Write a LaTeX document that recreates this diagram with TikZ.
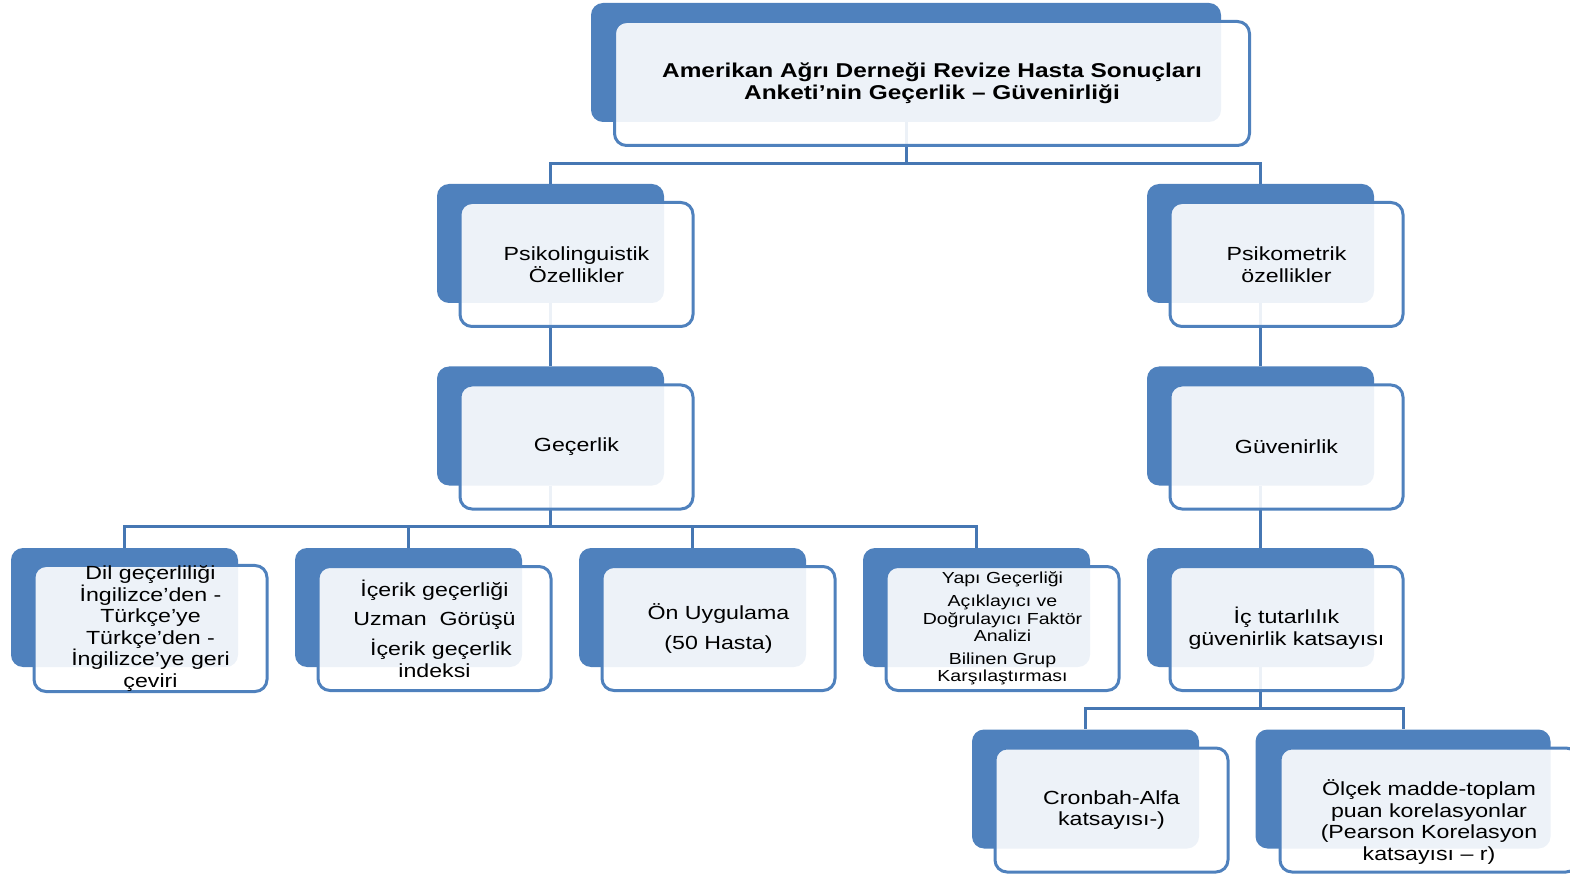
\documentclass[tikz,border=0pt]{standalone}
\usepackage{fontspec}
\setmainfont{Liberation Sans}[FakeStretch=1.22]
\usetikzlibrary{positioning}

\definecolor{backblue}{HTML}{4F81BD}
\definecolor{lineblue}{HTML}{4677B3}

\pgfdeclarelayer{bg}
\pgfsetlayers{bg,main}

\tikzset{
  backbox/.style={fill=backblue, rounded corners=6pt, inner sep=0pt,
    minimum width=113.5pt, minimum height=59.5pt},
  frontbox/.style={draw=backblue, line width=1.5pt, fill=white,
    fill opacity=0.9, text opacity=1, rounded corners=6pt, inner sep=0pt,
    minimum width=116.5pt, minimum height=62pt, align=center,
    font=\fontsize{9.5}{10.8}\selectfont},
  link/.style={draw=lineblue, line width=1.5pt}
}

\begin{document}
\begin{tikzpicture}[x=0.5pt,y=-0.5pt]

            \useasboundingbox (0,0) rectangle (1570,877);

            % level 1

            \node[backbox, minimum width=315pt] (topb) at (906, 62.5) {};
            \node[frontbox, minimum width=317.5pt,
                  font=\fontsize{10}{11}\selectfont\bfseries]
                  (top) at ([shift={(26,21)}]topb.center)
                  {Amerikan Ağrı Derneği Revize Hasta Sonuçları\\Anketi’nin Geçerlik – Güvenirliği};

            % level 2

            \node[backbox] (pslb) at (550.5, 243.5) {};
            \node[frontbox] (psl) at ([shift={(26,21)}]pslb.center) {Psikolinguistik\\Özellikler};

            \node[backbox] (psmb) at (1260.5, 243.5) {};
            \node[frontbox] (psm) at ([shift={(26,21)}]psmb.center) {Psikometrik\\özellikler};

            % level 3

            \node[backbox] (gecb) at (550.5, 426) {};
            \node[frontbox] (gec) at ([shift={(26,21)}]gecb.center) {Geçerlik};

            \node[backbox] (guvb) at (1260.5, 426) {};
            \node[frontbox] (guv) at ([shift={(26,21)}]guvb.center) {Güvenirlik};

            % level 4

            \node[backbox] (dilb) at (124.5, 607.5) {};
            \node[frontbox] (dil) at ([shift={(26,21)}]dilb.center)
                  {Dil geçerliliği\\İngilizce’den -\\Türkçe’ye\\Türkçe’den -\\İngilizce’ye geri\\çeviri};

            \node[backbox] (icrb) at (408.5, 607.5) {};
            \node[frontbox] (icr) at ([shift={(26,21)}]icrb.center)
                  {İçerik geçerliği\\[4pt]Uzman\ \ Görüşü\\[4pt]\ \ İçerik geçerlik\\indeksi};

            \node[backbox] (onub) at (692.5, 607.5) {};
            \node[frontbox] (onu) at ([shift={(26,21)}]onub.center)
                  {Ön Uygulama\\[4pt](50 Hasta)};

            \node[backbox] (yapib) at (976.5, 607.5) {};
            \node[frontbox, font=\fontsize{8}{8.6}\selectfont] (yapi) at ([shift={(26,21)}]yapib.center)
                  {Yapı Geçerliği\\[3pt]Açıklayıcı ve\\Doğrulayıcı Faktör\\Analizi\\[3pt]Bilinen Grup\\Karşılaştırması};

            \node[backbox] (ictb) at (1260.5, 607.5) {};
            \node[frontbox] (ict) at ([shift={(26,21)}]ictb.center)
                  {İç tutarlılık\\güvenirlik katsayısı};

            % level 5

            \node[backbox] (cronb) at (1085.5, 789) {};
            \node[frontbox] (cron) at ([shift={(26,21)}]cronb.center)
                  {Cronbah-Alfa\\katsayısı-)};

            \node[backbox, minimum width=147.5pt] (olcb) at (1403, 789) {};
            \node[frontbox, minimum width=149pt] (olc) at ([shift={(26,21)}]olcb.center)
                  {\rule{0pt}{20pt}Ölçek madde-toplam\\puan korelasyonlar\\(Pearson Korelasyon\\katsayısı – r)};

            % connectors

            \begin{pgfonlayer}{bg}
            \draw[link] (topb.south) -- ++(0,41) -| (pslb.north);
            \draw[link] (topb.south) -- ++(0,41) -| (psmb.north);
            \draw[link] (pslb.south) -- (gecb.north);
            \draw[link] (psmb.south) -- (guvb.north);
            \foreach \k in {dilb,icrb,onub,yapib}
                \draw[link] (gecb.south) -- ++(0,41) -| (\k.north);
            \draw[link] (guvb.south) -- (ictb.north);
            \draw[link] (ictb.south) -- ++(0,41) -| (cronb.north);
            \draw[link] (ictb.south) -- ++(0,41) -| (olcb.north);
            \end{pgfonlayer}
        \end{tikzpicture}
\end{document}
